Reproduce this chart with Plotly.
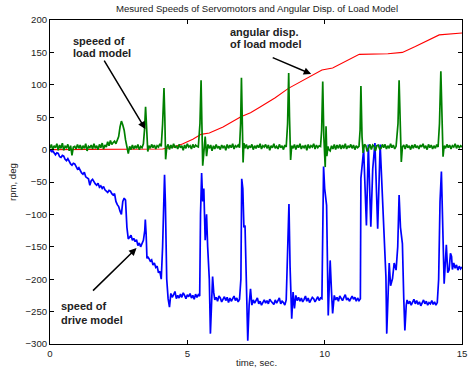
import plotly.graph_objects as go

# ---- data ----
# speed of load model (green)
t_load = [0.00,0.05,0.10,0.15,0.20,0.25,0.30,0.35,0.40,0.45,0.50,0.55,0.60,0.65,0.70,0.75,0.80,0.85,0.90,0.95,
          1.00,1.05,1.10,1.15,1.20,1.25,1.30,1.35,1.40,1.45,1.50,1.55,1.60,1.65,1.70,1.75,1.80,1.85,1.90,1.95,
          2.00,2.05,2.10,2.15,2.20,2.25,2.30,2.35,2.40,2.45,
          2.50,2.55,2.60,2.65,2.70,2.75,2.80,2.85,2.90,2.95,
          3.00,3.05,3.10,3.15,3.20,3.25,3.30,3.35,3.40,
          3.44,3.48,3.52,3.56,
          3.60,3.65,3.70,3.75,3.80,3.85,3.90,3.95,4.00,4.05,
          4.10,4.15,4.18,4.21,4.25,
          4.30,4.35,4.40,4.45,4.50,4.55,4.60,4.65,4.70,4.75,4.80,4.85,4.90,4.95,5.00,5.05,5.10,5.15,5.20,5.25,5.30,5.35,5.40,
          5.46,5.50,5.53,5.56,5.60,5.65,5.70,5.75,
          5.80,5.85,5.90,5.95,6.00,6.05,6.10,6.15,6.20,6.25,6.30,6.35,6.40,6.45,6.50,6.55,6.60,6.65,6.70,6.75,6.80,6.85,6.90,
          6.94,6.97,7.00,7.03,7.06,
          7.10,7.15,7.20,7.25,7.30,7.35,7.40,7.45,7.50,7.55,7.60,7.65,7.70,7.75,7.80,7.85,7.90,7.95,8.00,8.05,8.10,8.15,8.20,8.25,8.30,8.35,8.40,8.45,8.50,8.55,8.60,
          8.65,8.69,8.72,8.76,8.80,
          8.85,8.90,8.95,9.00,9.05,9.10,9.15,9.20,9.25,9.30,9.35,9.40,9.45,9.50,9.55,9.60,9.65,9.70,9.75,9.80,9.85,
          9.89,9.93,9.97,10.02,10.05,10.08,10.12,
          10.15,10.20,10.25,10.30,10.35,10.40,10.45,10.50,10.55,10.60,10.65,10.70,10.75,10.80,10.85,10.90,10.95,11.00,11.05,11.10,11.15,11.20,11.25,
          11.29,11.32,11.36,11.40,
          11.45,11.50,11.55,11.60,11.65,11.70,11.75,11.80,11.85,11.90,11.95,12.00,12.05,12.10,12.15,12.20,12.25,12.30,12.35,12.40,12.45,12.50,12.55,12.60,
          12.67,12.71,12.75,12.79,12.83,
          12.88,12.93,12.98,13.03,13.08,13.13,13.18,13.23,13.28,13.33,13.38,13.43,13.48,13.53,13.58,13.63,13.68,13.73,13.78,13.83,13.88,13.93,13.98,14.03,14.08,14.13,
          14.18,14.23,14.27,14.31,14.35,
          14.40,14.45,14.50,14.55,14.60,14.65,14.70,14.75,14.80,14.85,14.90,14.95,15.00]
v_load = [2,8,0,6,3,9,-1,7,2,10,-1,5,3,8,-2,6,-9,4,5,1,
          8,2,7,0,6,2,9,-2,5,3,7,1,9,2,6,0,8,3,10,1,
          7,4,12,6,14,8,11,13,9,15,
          20,35,44,38,30,15,2,-6,5,0,
          7,1,6,2,8,0,5,3,9,
          30,66,30,-3,
          6,2,8,3,7,1,6,4,9,5,
          40,95,50,-15,3,
          8,0,7,2,9,3,6,1,8,3,6,-1,7,2,9,4,6,1,8,3,7,5,4,
          40,107,40,-25,-5,20,-10,8,
          2,7,-2,6,1,8,2,5,0,7,3,6,-1,8,2,7,3,9,1,6,4,7,3,
          40,111,50,-20,10,
          2,8,1,6,3,8,0,6,2,7,3,9,1,6,4,8,2,7,-1,6,3,9,2,5,1,8,3,6,0,7,4,
          40,118,50,-16,6,
          2,8,0,7,3,9,1,6,3,7,-1,8,2,6,4,9,1,7,3,6,5,
          30,105,20,-27,36,-10,5,
          0,-2,6,1,8,0,7,2,8,1,7,2,9,1,6,3,8,2,7,0,6,3,5,
          30,98,20,-5,
          8,6,-3,4,8,0,7,5,-2,6,7,1,2,8,3,8,1,6,2,9,3,7,1,5,
          40,107,30,-19,4,
          7,1,8,3,6,0,7,2,8,3,6,1,7,4,9,2,6,0,8,3,7,1,6,2,8,4,
          40,121,30,-11,6,
          2,8,3,7,1,6,4,9,2,7,3,6,4]

# speed of drive model (blue)
t_drive = [0.00,0.05,0.10,0.15,0.20,0.25,0.30,0.35,0.40,0.45,0.50,0.55,0.60,0.65,0.70,0.75,0.80,0.85,0.90,0.95,
           1.00,1.05,1.10,1.15,1.20,1.25,1.30,1.35,1.40,1.45,1.50,1.55,1.60,1.65,1.70,1.75,1.80,1.85,1.90,1.95,
           2.00,2.05,2.10,2.15,2.20,2.25,2.30,2.35,2.40,2.45,2.50,2.55,2.60,2.65,2.70,2.75,
           2.80,2.85,2.90,2.95,3.00,3.05,3.10,3.15,3.20,3.25,3.30,3.35,3.40,3.45,
           3.47,3.50,3.53,
           3.55,3.60,3.65,3.70,3.75,3.80,3.85,3.90,3.95,4.00,4.05,
           4.10,4.15,4.17,4.20,4.25,4.30,4.35,
           4.40,4.45,4.50,4.55,4.60,4.65,4.70,4.75,4.80,4.85,4.90,4.95,5.00,5.05,5.10,5.15,5.20,5.25,5.30,5.35,5.40,5.45,
           5.48,5.52,5.56,5.60,5.65,5.70,5.74,5.80,5.84,5.88,5.92,5.96,
           6.00,6.05,6.10,6.15,6.20,6.25,6.30,6.35,6.40,6.45,6.50,6.55,6.60,6.65,6.70,6.75,6.80,6.85,6.90,
           6.95,6.98,7.02,7.06,7.10,7.15,7.20,7.25,7.30,7.35,
           7.40,7.45,7.50,7.55,7.60,7.65,7.70,7.75,7.80,7.85,7.90,7.95,8.00,8.05,8.10,8.15,8.20,8.25,8.30,8.35,8.40,8.45,8.50,8.55,8.60,
           8.65,8.70,8.74,8.80,8.85,8.90,8.95,
           9.00,9.05,9.10,9.15,9.20,9.25,9.30,9.35,9.40,9.45,9.50,9.55,9.60,9.65,9.70,9.75,9.80,9.85,9.90,
           9.93,9.96,10.00,10.07,10.13,10.20,10.25,10.29,10.35,
           10.40,10.45,10.50,10.55,10.60,10.65,10.70,10.75,10.80,10.85,10.90,10.95,11.00,11.05,11.10,11.15,11.20,11.25,11.30,
           11.32,11.36,11.42,11.52,11.59,11.68,11.75,11.83,11.93,12.02,12.14,12.20,12.23,12.26,12.30,12.35,12.40,12.47,
           12.53,12.60,12.66,12.71,12.76,12.83,12.88,12.92,12.97,
           13.00,13.05,13.10,13.15,13.20,13.25,13.30,13.35,13.40,13.45,13.50,13.55,13.60,13.65,13.70,13.75,13.80,13.85,13.90,13.95,14.00,14.05,14.10,
           14.15,14.20,14.25,14.30,14.35,14.43,14.48,14.53,14.58,14.62,
           14.65,14.70,14.75,14.80,14.85,14.90,14.95,15.00]
v_drive = [0,-3,-2,-6,-8,-5,-6,-11,-12,-9,-10,-15,-17,-14,-19,-22,-24,-21,-22,-27,
           -30,-28,-33,-36,-38,-35,-42,-44,-45,-55,-48,-46,-50,-53,-55,-52,-58,-56,-60,-57,
           -62,-65,-66,-63,-64,-68,-70,-68,-80,-85,-88,-95,-100,-80,-75,-78,
           -120,-138,-135,-132,-140,-137,-142,-139,-148,-144,-150,-146,-140,-125,
           -108,-130,-168,
           -165,-168,-172,-170,-178,-175,-182,-180,-190,-188,-200,
           -150,-60,-39,-80,-200,-230,-243,
           -222,-228,-224,-219,-230,-225,-229,-223,-228,-221,-225,-230,-224,-227,-222,-229,-225,-231,-223,-228,-224,-226,
           -100,-36,-80,-60,-140,-100,-150,-200,-284,-240,-196,-220,
           -232,-228,-234,-226,-229,-235,-230,-227,-233,-228,-236,-229,-234,-231,-226,-233,-229,-235,-231,
           -200,-45,-60,-120,-117,-200,-295,-240,-215,-240,
           -232,-237,-233,-229,-238,-234,-240,-236,-232,-237,-233,-238,-231,-234,-236,-239,-232,-237,-233,-229,-238,-234,-236,-240,-232,
           -150,-84,-180,-261,-220,-245,-225,
           -233,-228,-234,-229,-235,-231,-226,-234,-229,-236,-233,-228,-230,-235,-231,-227,-233,-229,-230,
           -100,-26,-60,-86,-256,-171,-220,-253,-225,
           -232,-228,-234,-226,-229,-233,-228,-224,-232,-229,-234,-230,-226,-231,-228,-234,-229,-233,-230,
           -44,-20,0,-117,8,-119,-30,10,-122,8,-124,-160,-196,-284,-230,-175,-210,-199,
           -175,-186,-150,-70,-120,-145,-230,-279,-240,
           -232,-238,-234,-240,-236,-231,-238,-233,-239,-235,-241,-236,-232,-238,-234,-240,-236,-238,-233,-239,-235,-240,-236,
           -200,-80,-34,-120,-207,-147,-190,-186,-160,-165,
           -185,-175,-183,-178,-186,-180,-184,-181]

# angular displacement of load model (red)
t_ang = [0.0,1.0,2.0,3.0,3.5,4.1,4.5,4.82,5.2,5.5,5.8,6.3,6.95,7.3,7.62,8.2,8.68,9.0,9.5,9.9,10.29,10.8,
         11.26,12.3,12.83,13.3,13.8,14.17,15.0]
v_ang = [0,0,0.5,1,1,1,4,8.5,16,23.5,25.5,35,50.7,57,65,80,94.5,102,113,122.8,126,137,
         147,148,150,159,169,177,180]

assert len(t_load) == len(v_load), (len(t_load), len(v_load))
assert len(t_drive) == len(v_drive), (len(t_drive), len(v_drive))
assert len(t_ang) == len(v_ang)

x_ticks = [0, 5, 10, 15]
y_ticks = [-300, -250, -200, -150, -100, -50, 0, 50, 100, 150, 200]
y_tick_text = ["\u2212300", "\u2212250", "\u2212200", "\u2212150", "\u2212100", "\u221250", "0", "50", "100", "150", "200"]

FONT = "Liberation Sans, Arial, Helvetica, sans-serif"
TXT = "#222222"

fig = go.Figure()
fig.add_trace(go.Scatter(x=t_ang, y=v_ang, mode="lines", line=dict(color="#ff0000", width=1.1),
                         showlegend=False, hoverinfo="skip"))
fig.add_trace(go.Scatter(x=t_drive, y=v_drive, mode="lines", line=dict(color="#0000ff", width=1.7),
                         showlegend=False, hoverinfo="skip"))
fig.add_trace(go.Scatter(x=t_load, y=v_load, mode="lines", line=dict(color="#008000", width=1.7),
                         showlegend=False, hoverinfo="skip"))

axis_common = dict(showgrid=False, zeroline=False, showline=True, linecolor="black", linewidth=1,
                   mirror="allticks", ticks="inside", ticklen=4, tickcolor="black", automargin=False,
                   tickfont=dict(family=FONT, size=9.6, color=TXT))

fig.update_layout(
    width=468, height=368,
    margin=dict(l=50, r=6, t=20, b=24, autoexpand=False),
    paper_bgcolor="white", plot_bgcolor="white",
    font=dict(family=FONT, size=9.6, color=TXT),
    title=dict(text="Mesured Speeds of Servomotors and Angular Disp. of Load Model",
               x=(257 / 468), xanchor="center", y=1 - 9/368, yanchor="middle",
               font=dict(family=FONT, size=9.6, color=TXT)),
    xaxis=dict(range=[0, 15], tickvals=x_ticks, ticktext=[str(v) for v in x_ticks], **axis_common),
    yaxis=dict(range=[-300, 200], tickvals=y_ticks, ticktext=y_tick_text, **axis_common),
)

# axis titles
fig.add_annotation(x=(256.7 - 50) / 412, y=(344 - 362.7) / 324, xref="paper", yref="paper",
                   text="time, sec.", showarrow=False, xanchor="center", yanchor="middle",
                   font=dict(family=FONT, size=9.6, color=TXT))
fig.add_annotation(x=(12 - 50) / 412, y=(344 - 182) / 324, xref="paper", yref="paper",
                   text="rpm, deg", showarrow=False, xanchor="center", yanchor="middle", textangle=-90,
                   font=dict(family=FONT, size=9.6, color=TXT))

# arrows
arrows = [
    dict(x=3.47, y=31.7, ax=-42, ay=-70),
    dict(x=9.51, y=116.6, ax=-40, ay=-17),
    dict(x=3.15, y=-152, ax=-45, ay=44),
]
for a in arrows:
    fig.add_annotation(x=a["x"], y=a["y"], ax=a["ax"], ay=a["ay"], text="", showarrow=True,
                       arrowhead=2, arrowsize=1, arrowwidth=1.5, arrowcolor="black",
                       xref="x", yref="y")

# labels (each line placed separately)
def px2t(px):
    return (px - 50.5) / 27.49

def py2v(py):
    return (149.5 - py) / 0.6474

labels = [
    ("speeed of", 72, 40.7),
    ("load model", 72, 53.3),
    ("angular disp.", 228.7, 32.3),
    ("of load model", 228.7, 44.3),
    ("speed of", 60, 305.7),
    ("drive model", 60, 319.3),
]
for txt, px, py in labels:
    fig.add_annotation(x=px2t(px), y=py2v(py), text="<b>" + txt + "</b>", showarrow=False,
                       xanchor="left", yanchor="middle", xref="x", yref="y",
                       font=dict(family=FONT, size=11, color=TXT))

fig.write_html("out.html", config={"displayModeBar": False},
               post_script="document.body.style.margin='0';document.body.style.overflow='hidden';")
